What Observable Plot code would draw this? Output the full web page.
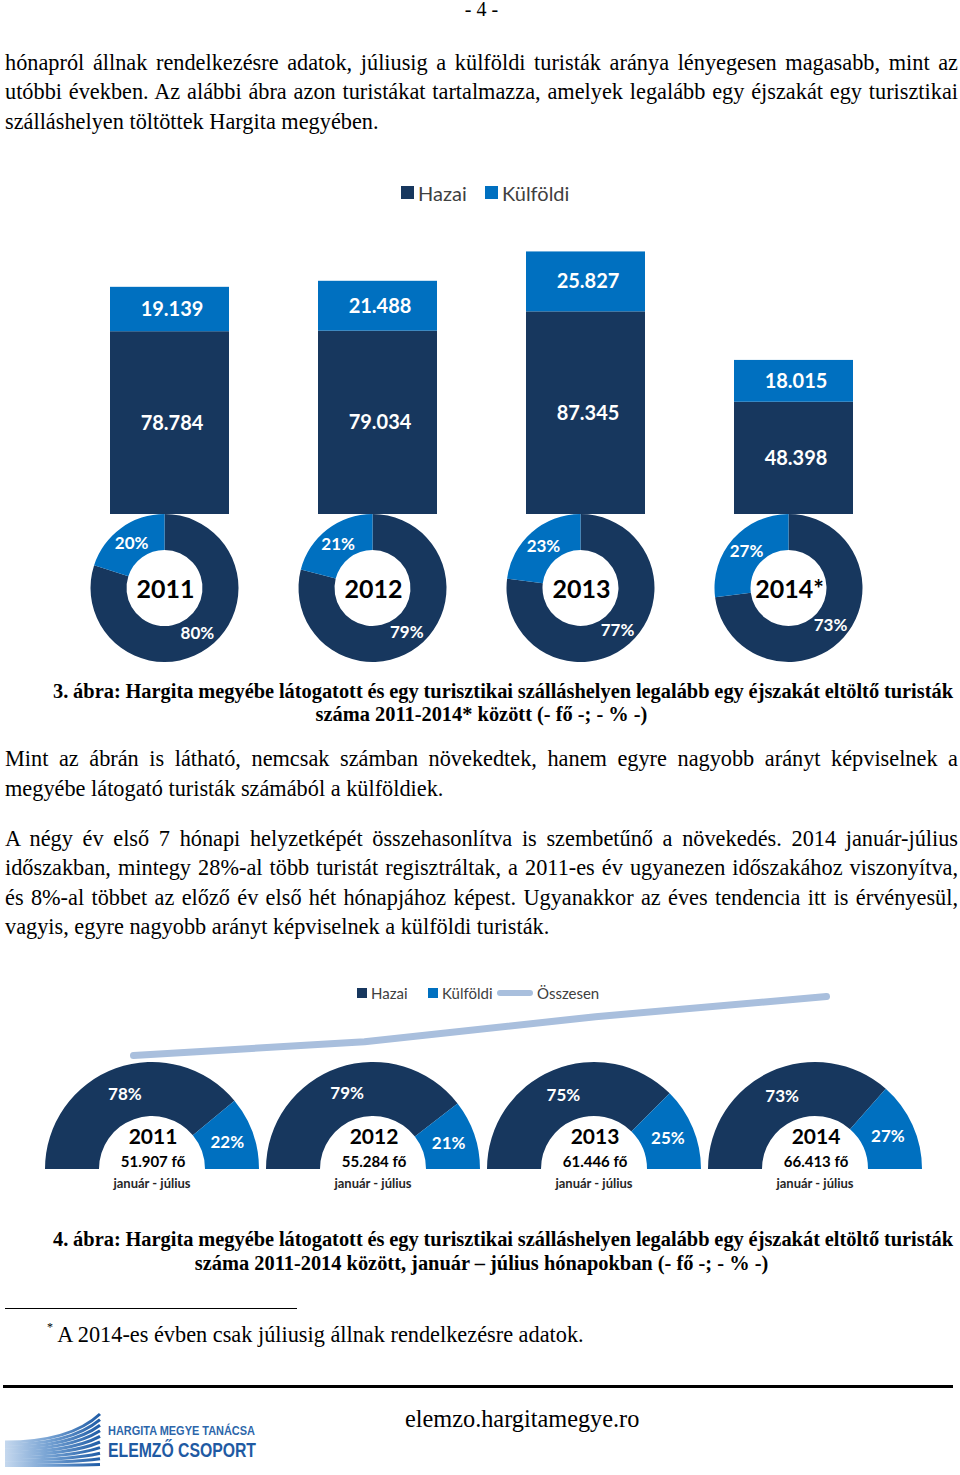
<!DOCTYPE html>
<html><head><meta charset="utf-8">
<script src="https://cdn.jsdelivr.net/npm/d3@7"></script>
<script src="https://cdn.jsdelivr.net/npm/@observablehq/plot@0.6"></script>
<style>
html,body{margin:0;padding:0;background:#fff;}
body{width:960px;height:1475px;position:relative;overflow:hidden;font-family:"Liberation Serif","Times New Roman",serif;color:#000;}
.ln{position:absolute;left:5px;width:953px;font-size:22.3px;line-height:30px;white-space:nowrap;}
.cap{position:absolute;font-size:20.4px;line-height:23px;font-weight:bold;white-space:nowrap;}
.j>span{display:inline-block;white-space:nowrap;}
.ctr{text-align:center;}
.abs{position:absolute;}
.lg{position:absolute;font-family:Lato,"Open Sans",sans-serif;color:#404040;white-space:nowrap;}
.sq{position:absolute;}
</style></head>
<body>
<div class="ln ctr" style="top:-6px;font-size:20px;">- 4 -</div>

<div class="ln j" style="top:48px;"><span>hónapról állnak rendelkezésre adatok, júliusig a külföldi turisták aránya lényegesen magasabb, mint az</span></div>
<div class="ln j" style="top:77px;"><span>utóbbi években. Az alábbi ábra azon turistákat tartalmazza, amelyek legalább egy éjszakát egy turisztikai</span></div>
<div class="ln" style="top:107px;">szálláshelyen töltöttek Hargita megyében.</div>

<div class="sq" style="left:401px;top:186px;width:13px;height:13px;background:#17375E;"></div>
<div class="lg" style="left:418px;top:181px;font-size:20px;line-height:24px;">Hazai</div>
<div class="sq" style="left:485px;top:186px;width:13px;height:13px;background:#0070C0;"></div>
<div class="lg" style="left:502px;top:181px;font-size:20px;line-height:24px;">Külföldi</div>

<div id="chart1"></div>

<div class="cap j" style="left:53px;width:900px;top:680px;"><span>3. ábra: Hargita megyébe látogatott és egy turisztikai szálláshelyen legalább egy éjszakát eltöltő turisták</span></div>
<div class="cap ctr" style="left:5px;width:953px;top:703px;">száma 2011-2014* között (- fő -; - % -)</div>

<div class="ln j" style="top:744px;"><span>Mint az ábrán is látható, nemcsak számban növekedtek, hanem egyre nagyobb arányt képviselnek a</span></div>
<div class="ln" style="top:774px;">megyébe látogató turisták számából a külföldiek.</div>

<div class="ln j" style="top:824px;"><span>A négy év első 7 hónapi helyzetképét összehasonlítva is szembetűnő a növekedés. 2014 január-július</span></div>
<div class="ln j" style="top:853px;"><span>időszakban, mintegy 28%-al több turistát regisztráltak, a 2011-es év ugyanezen időszakához viszonyítva,</span></div>
<div class="ln j" style="top:883px;"><span>és 8%-al többet az előző év első hét hónapjához képest. Ugyanakkor az éves tendencia itt is érvényesül,</span></div>
<div class="ln" style="top:912px;">vagyis, egyre nagyobb arányt képviselnek a külföldi turisták.</div>

<div class="sq" style="left:357px;top:988px;width:10px;height:10px;background:#17375E;"></div>
<div class="lg" style="left:371px;top:984px;font-size:15px;line-height:18px;">Hazai</div>
<div class="sq" style="left:428px;top:988px;width:10px;height:10px;background:#0070C0;"></div>
<div class="lg" style="left:442px;top:984px;font-size:15px;line-height:18px;">Külföldi</div>
<div class="sq" style="left:497px;top:990px;width:36px;height:6px;border-radius:3px;background:#A9BFDD;"></div>
<div class="lg" style="left:537px;top:984px;font-size:15px;line-height:18px;">Összesen</div>

<div id="chart2line"></div>
<div id="chart2"></div>

<div class="cap j" style="left:53px;width:900px;top:1228px;"><span>4. ábra: Hargita megyébe látogatott és egy turisztikai szálláshelyen legalább egy éjszakát eltöltő turisták</span></div>
<div class="cap ctr" style="left:5px;width:953px;top:1252px;">száma 2011-2014 között, január – július hónapokban (- fő -; - % -)</div>

<div class="abs" style="left:5px;top:1308px;width:292px;height:1px;background:#000;"></div>
<div class="ln" style="left:47px;top:1315px;"><sup style="font-size:12px;position:relative;top:-3px;">*</sup> A 2014-es évben csak júliusig állnak rendelkezésre adatok.</div>

<div class="abs" style="left:3px;top:1385px;width:950px;height:3px;background:#000;"></div>
<div class="abs" style="left:405px;top:1404px;font-size:24.3px;line-height:30px;white-space:nowrap;">elemzo.hargitamegye.ro</div>

<svg class="abs" style="left:0;top:1400px;" width="320" height="75" viewBox="0 1400 320 75">
  <defs><linearGradient id="lgr" x1="0" x2="1" y1="0" y2="0">
    <stop offset="0" stop-color="#c5d8ee"/><stop offset="0.5" stop-color="#6f9dd0"/><stop offset="1" stop-color="#1f5ca6"/></linearGradient></defs>
  <g id="stripes" fill="none" stroke="url(#lgr)" stroke-width="3"></g>
  <text x="108" y="1435" font-family="'Liberation Sans Narrow','Liberation Sans',sans-serif" font-weight="bold" font-size="13" fill="#2c66aa" textLength="147" lengthAdjust="spacingAndGlyphs">HARGITA MEGYE TANÁCSA</text>
  <text x="108" y="1457" font-family="'Liberation Sans Narrow','Liberation Sans',sans-serif" font-weight="bold" font-size="21" fill="#1f5aa3" textLength="148" lengthAdjust="spacingAndGlyphs">ELEMZŐ CSOPORT</text>
</svg>

<script>
// ---------- data ----------
const years1 = ["2011", "2012", "2013", "2014*"];
const hazai1 = [78784, 79034, 87345, 48398];
const kulfoldi1 = [19139, 21488, 25827, 18015];
const hazaiPct1 = [80, 79, 77, 73];
const kulfoldiPct1 = [20, 21, 23, 27];

const years2 = ["2011", "2012", "2013", "2014"];
const hazaiPct2 = [78, 79, 75, 73];
const kulfoldiPct2 = [22, 21, 25, 27];
const total2 = [51907, 55284, 61446, 66413];
const period2 = "január - július";

const seriesNames = ["Hazai", "Külföldi"];
const seriesColors = ["#17375E", "#0070C0"];
const totalColor = "#A9BFDD";

// ---------- helpers ----------
const huLocale = d3.formatLocale({decimal: ",", thousands: ".", grouping: [3], currency: ["", ""]});
const fmt = huLocale.format(",d");
const FONT = "Lato, 'Open Sans', sans-serif";

function place(svg, left, top) {
  svg.style.position = "absolute";
  svg.style.left = left + "px";
  svg.style.top = top + "px";
  svg.style.maxWidth = "none";
  return svg;
}

// justify single lines
document.querySelectorAll(".j").forEach(el => {
  const span = el.firstElementChild;
  const w = span.getBoundingClientRect().width;
  const n = (span.textContent.match(/ /g) || []).length;
  const target = el.getBoundingClientRect().width;
  if (n > 0) span.style.wordSpacing = ((target - w) / n) + "px";
});

// ---------- chart 1 ----------
const rows1 = years1.flatMap((y, i) => [
  {year: y, type: seriesNames[0], value: hazai1[i]},
  {year: y, type: seriesNames[1], value: kulfoldi1[i]}
]);
const donut1 = years1.map((y, i) => ({year: y, h: hazaiPct1[i], k: kulfoldiPct1[i]}));

const c1 = Plot.plot({
  width: 960, height: 440,
  marginTop: 0, marginBottom: 0, marginLeft: 65.5, marginRight: 62.5,
  x: {domain: years1, paddingInner: 0.428, paddingOuter: 0.214, axis: null},
  y: {domain: [0, 120000], range: [284, 5.6], axis: null},
  color: {domain: seriesNames, range: seriesColors},
  style: {background: "transparent", fontFamily: FONT, overflow: "visible"},
  marks: [
    Plot.barY(rows1, {x: "year", y: "value", fill: "type"}),
    Plot.text(rows1, Plot.stackY({x: "year", y: "value", z: "type", text: d => fmt(d.value),
      fill: "white", fontSize: 20, fontWeight: "bold", dx: 2})),
    Plot.dot(donut1, {x: "year", y: () => 0, r: 0,
      render(index, scales, values, dims) {
        const g = d3.create("svg:g");
        const bw = scales.x.bandwidth ? scales.x.bandwidth() : 0;
        const R = 74, r0 = 38;
        const arc = d3.arc().innerRadius(r0).outerRadius(R);
        for (const i of index) {
          const d = donut1[i];
          const cx = values.x[i] + bw / 2 - 5, cy = values.y[i] + R;
          const gi = g.append("g").attr("transform", `translate(${cx},${cy})`);
          const sk = {startAngle: -2 * Math.PI * d.k / 100, endAngle: 0};
          const sh = {startAngle: 0, endAngle: 2 * Math.PI * d.h / 100};
          gi.append("path").attr("d", arc(sh)).attr("fill", seriesColors[0]);
          gi.append("path").attr("d", arc(sk)).attr("fill", seriesColors[1]);
          for (const [s, v] of [[sk, d.k], [sh, d.h]]) {
            const [tx, ty] = arc.centroid(s);
            gi.append("text").attr("x", tx).attr("y", ty).attr("dy", "0.35em")
              .attr("text-anchor", "middle").attr("fill", "white")
              .attr("font-size", 17).attr("font-weight", "bold").text(v + "%");
          }
          gi.append("text").attr("x", 1).attr("y", 1).attr("dy", "0.35em")
            .attr("text-anchor", "middle").attr("fill", "black")
            .attr("font-size", 25).attr("font-weight", "bold").text(d.year);
        }
        return g.node();
      }})
  ]
});
document.getElementById("chart1").appendChild(place(c1, 0, 230));

// ---------- chart 2: total line ----------
const lineRows = years2.map((y, i) => ({year: y, total: total2[i]}));
const c2l = Plot.plot({
  width: 960, height: 90, margin: 0,
  x: {type: "point", domain: years2, range: [132, 827], padding: 0, axis: null},
  y: {domain: d3.extent(total2), range: [75, 16], axis: null},
  style: {background: "transparent", overflow: "visible"},
  marks: [
    Plot.line(lineRows, {x: "year", y: "total", stroke: totalColor, strokeWidth: 7, strokeLinecap: "round", strokeLinejoin: "round"})
  ]
});
document.getElementById("chart2line").appendChild(place(c2l, 0, 980));

// ---------- chart 2: half donuts ----------
const donut2 = years2.map((y, i) => ({year: y, h: hazaiPct2[i], k: kulfoldiPct2[i], total: total2[i]}));
const c2 = Plot.plot({
  width: 960, height: 160, marginTop: 0, marginBottom: 31, marginLeft: 0, marginRight: 0,
  x: {type: "point", domain: years2, range: [151, 815], padding: 0, axis: null},
  style: {background: "transparent", fontFamily: FONT, overflow: "visible"},
  marks: [
    Plot.dot(donut2, {x: "year", frameAnchor: "bottom", r: 0,
      render(index, scales, values, dims) {
        const g = d3.create("svg:g");
        const R = 107, r0 = 53;
        const arc = d3.arc().innerRadius(r0).outerRadius(R);
        const cy = dims.height - dims.marginBottom;
        for (const i of index) {
          const d = donut2[i];
          const cx = values.x[i];
          const gi = g.append("g").attr("transform", `translate(${cx},${cy})`);
          const a0 = -Math.PI / 2, a1 = a0 + Math.PI * d.h / 100;
          const sh = {startAngle: a0, endAngle: a1};
          const sk = {startAngle: a1, endAngle: Math.PI / 2};
          gi.append("path").attr("d", arc(sh)).attr("fill", seriesColors[0]);
          gi.append("path").attr("d", arc(sk)).attr("fill", seriesColors[1]);
          for (const [s, v] of [[sh, d.h], [sk, d.k]]) {
            const [tx, ty] = arc.centroid(s);
            gi.append("text").attr("x", tx).attr("y", ty).attr("dy", "0.35em")
              .attr("text-anchor", "middle").attr("fill", "white")
              .attr("font-size", 17).attr("font-weight", "bold").text(v + "%");
          }
          gi.append("text").attr("x", 1).attr("y", -32).attr("dy", "0.35em")
            .attr("text-anchor", "middle").attr("fill", "black")
            .attr("font-size", 21).attr("font-weight", "bold").text(d.year);
          gi.append("text").attr("x", 1).attr("y", -7).attr("dy", "0.35em")
            .attr("text-anchor", "middle").attr("fill", "black")
            .attr("font-size", 15).attr("font-weight", "bold").text(fmt(d.total) + " fő");
          gi.append("text").attr("x", 0).attr("y", 14).attr("dy", "0.35em")
            .attr("text-anchor", "middle").attr("fill", "#262626")
            .attr("font-size", 13).attr("font-weight", "bold").text(period2);
        }
        return g.node();
      }})
  ]
});
document.getElementById("chart2").appendChild(place(c2, 0, 1040));

// ---------- logo stripes (decorative) ----------
const st = d3.select("#stripes");
for (let i = 0; i < 10; i++) {
  const yl = 1442 + i * 2.6, yr = 1414 + i * 5.6;
  st.append("path").attr("d", `M5,${yl} Q70,${yl} 100,${yr}`);
}
</script>
</body></html>
